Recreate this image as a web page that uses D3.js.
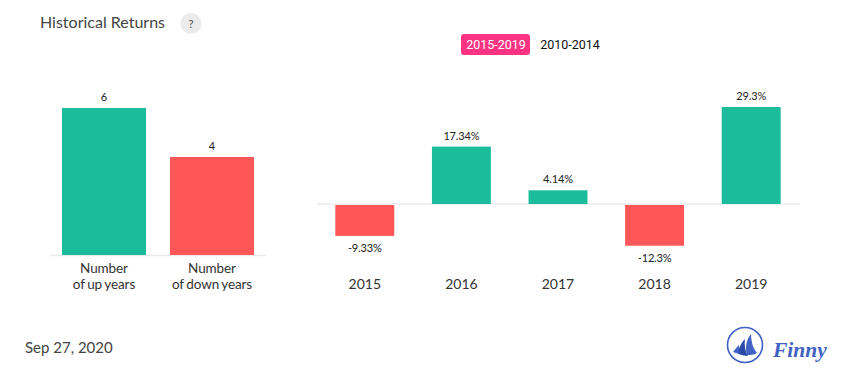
<!DOCTYPE html>
<html>
<head>
<meta charset="utf-8">
<script src="https://cdn.jsdelivr.net/npm/d3@7"></script>
<style>
  html, body { margin: 0; padding: 0; background: #fff; }
  svg { display: block; font-family: Lato, sans-serif; }
</style>
</head>
<body>
<svg id="chart"></svg>
<script>
//data
const countLabels = [["Number", "of up years"], ["Number", "of down years"]];
const countValues = [6, 4];
const years = ["2015", "2016", "2017", "2018", "2019"];
const returns = [-9.33, 17.34, 4.14, -12.3, 29.3];
const returnLabels = ["-9.33%", "17.34%", "4.14%", "-12.3%", "29.3%"];
const periods = ["2015-2019", "2010-2014"];

const green = "#1abc9c";
const red = "#ff5757";
const axisColor = "#ebebeb";
const blue = "#3f62c4";

const svg = d3.select("#chart").attr("width", 855).attr("height", 382);

//title
svg.append("text").attr("x", 40).attr("y", 28)
    .style("font-size", "16px").style("fill", "#444").text("Historical Returns");
svg.append("circle").attr("cx", 191).attr("cy", 23.5).attr("r", 10.5).style("fill", "#ebebeb");
svg.append("text").attr("x", 191).attr("y", 28).attr("text-anchor", "middle")
    .style("font-size", "12px").style("fill", "#555").text("?");

//period buttons
svg.append("rect").attr("x", 461).attr("y", 34).attr("width", 69).attr("height", 21).attr("rx", 3)
    .style("fill", "#fe3382");
svg.selectAll(".period").data(periods).enter().append("text")
    .attr("class", "period")
    .attr("x", (d, i) => i === 0 ? 496 : 570)
    .attr("y", 49)
    .attr("text-anchor", "middle")
    .style("font-family", "Roboto, sans-serif")
    .style("font-size", "12.5px")
    .style("fill", (d, i) => i === 0 ? "#fff" : "#111")
    .text(d => d);

//left chart
const xCount = d3.scaleOrdinal().domain([0, 1]).range([104, 212]);
const yCount = d3.scaleLinear().domain([0, 6]).range([255, 108]);

svg.append("line").attr("x1", 50).attr("x2", 267).attr("y1", 255.5).attr("y2", 255.5)
    .style("stroke", axisColor).style("stroke-width", 1.5);

svg.selectAll(".count").data(countValues).enter().append("rect")
    .attr("class", "count")
    .attr("x", (d, i) => xCount(i) - 42)
    .attr("y", d => yCount(d))
    .attr("width", 84)
    .attr("height", d => yCount(0) - yCount(d))
    .style("fill", (d, i) => i === 0 ? green : red);

svg.selectAll(".count-label").data(countValues).enter().append("text")
    .attr("class", "count-label")
    .attr("x", (d, i) => xCount(i))
    .attr("y", d => yCount(d) - 7)
    .attr("text-anchor", "middle")
    .style("font-size", "11px").style("fill", "#222")
    .text(d => d);

countLabels.forEach(function(lines, i) {
    lines.forEach(function(line, j) {
        svg.append("text")
            .attr("x", xCount(i))
            .attr("y", 273 + j * 16)
            .attr("text-anchor", "middle")
            .style("font-size", "13.5px").style("fill", "#333")
            .style("word-spacing", "-0.8px")
            .style("letter-spacing", "-0.1px")
            .text(line);
    });
});

//right chart
const xYear = d3.scaleBand().domain(years).range([316.5, 799.5]).paddingInner(0.39).paddingOuter(0.195);
const yReturn = d3.scaleLinear().domain([0, 29.3]).range([204, 107]);

svg.append("line").attr("x1", 317).attr("x2", 800).attr("y1", 204).attr("y2", 204)
    .style("stroke", axisColor).style("stroke-width", 1.5);

svg.selectAll(".ret").data(returns).enter().append("rect")
    .attr("class", "ret")
    .attr("x", (d, i) => xYear(years[i]))
    .attr("y", d => d > 0 ? yReturn(d) : yReturn(0) + 1)
    .attr("width", xYear.bandwidth())
    .attr("height", d => Math.abs(yReturn(d) - yReturn(0)))
    .style("fill", d => d > 0 ? green : red);

svg.selectAll(".ret-label").data(returns).enter().append("text")
    .attr("class", "ret-label")
    .attr("x", (d, i) => xYear(years[i]) + xYear.bandwidth() / 2)
    .attr("y", d => d > 0 ? yReturn(d) - 7 : yReturn(d) + 17.5)
    .attr("text-anchor", "middle")
    .style("font-size", "11px").style("fill", "#222")
    .style("letter-spacing", "-0.15px")
    .text((d, i) => returnLabels[i]);

svg.selectAll(".year").data(years).enter().append("text")
    .attr("class", "year")
    .attr("x", d => xYear(d) + xYear.bandwidth() / 2)
    .attr("y", 289)
    .attr("text-anchor", "middle")
    .style("font-size", "14px").style("fill", "#333")
    .text(d => d);

//footer
svg.append("text").attr("x", 25).attr("y", 353)
    .style("font-size", "15px").style("fill", "#444").text("Sep 27, 2020");

//logo
const logo = svg.append("g").attr("transform", "translate(745,345)");
logo.append("circle").attr("r", 17.5).style("fill", "none").style("stroke", blue).style("stroke-width", 1.6);
logo.append("path").attr("d", "M-12,7 C-10,4 -8,2 -6,0 C-6,3 -5,7 -3,10 C-6,9 -9,8 -12,7Z").style("fill", blue);
logo.append("path").attr("d", "M-6,9 C-7,4 -4,-2 0,-6 C-1,-1 0,6 3,11 C0,11 -3,10 -6,9Z").style("fill", "#2a4aa8");
logo.append("path").attr("d", "M2,10 C0,3 1,-5 6,-11 C6,-4 8,4 12,8 C9,10 5,10 2,10Z").style("fill", blue);
svg.append("text").attr("x", 773).attr("y", 357)
    .style("font-family", "'Liberation Serif', serif")
    .style("font-style", "italic").style("font-weight", "bold")
    .style("font-size", "21.5px").style("fill", blue)
    .text("Finny");
</script>
</body>
</html>
